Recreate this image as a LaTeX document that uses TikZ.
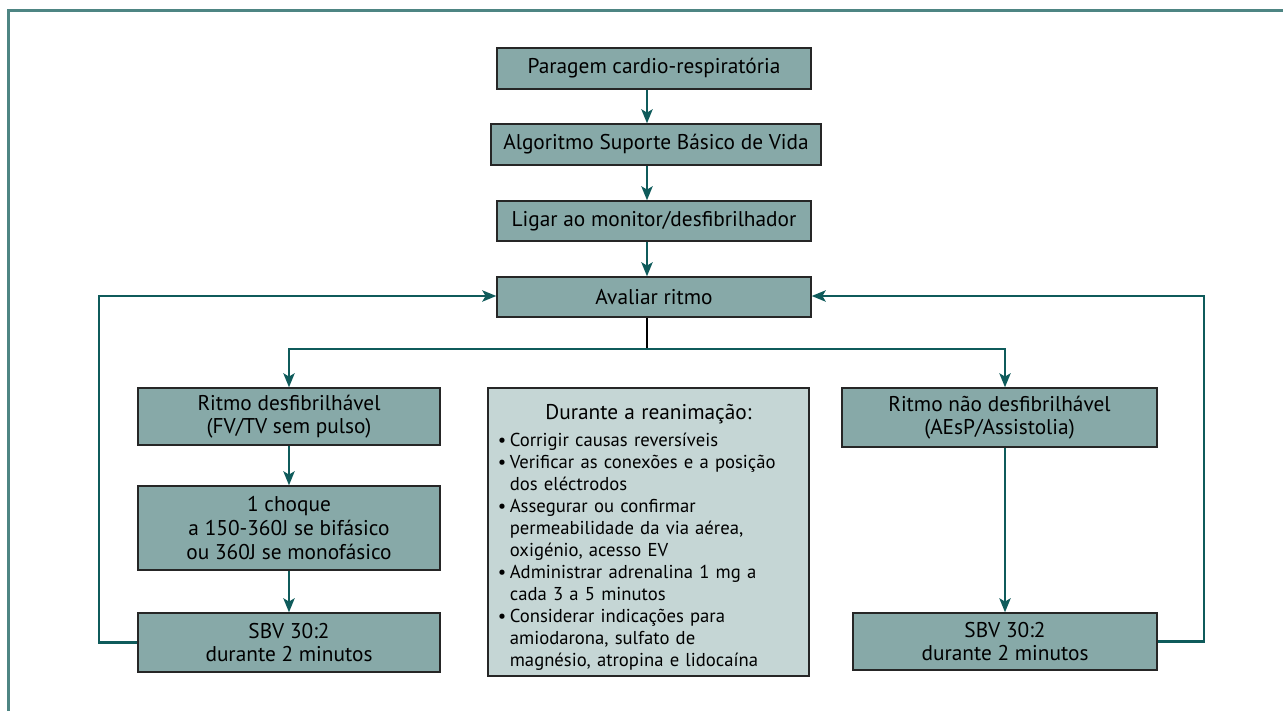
\documentclass[tikz,border=0pt]{standalone}
\usepackage{fontspec}
\setmainfont{PT Sans}
\usetikzlibrary{arrows.meta}
\definecolor{boxfill}{HTML}{87A9A8}
\definecolor{notefill}{HTML}{C5D6D5}
\definecolor{arrcol}{HTML}{0F5B5B}
\definecolor{framecol}{HTML}{4E8583}
\tikzset{
  box/.style={draw=black!85, fill=boxfill, line width=1.1pt, inner sep=0pt, align=center,
    font=\fontsize{16}{17.6}\selectfont},
  notebox/.style={draw=black!85, fill=notefill, line width=1.1pt, inner sep=0pt, align=left,
    font=\fontsize{14}{16.5}\selectfont},
  arr/.style={draw=arrcol, line width=1.6pt, -{Stealth[length=10.5pt,width=8.5pt,inset=2.5pt]}},
  framel/.style={draw=framecol, line width=1.6pt}
}
\newcommand{\bul}{\makebox[9pt][l]{\textbullet}}
\newcommand{\ind}{\hspace*{9pt}}
\begin{document}
\begin{tikzpicture}[x=0.75pt,y=-0.75pt]
\useasboundingbox (0,0) rectangle (1283,711);
\coordinate (fa) at (8.5,711);
\coordinate (fb) at (8.5,10.5);
\coordinate (fc) at (1283,10.5);
\draw[framel] (fa) -- (fb) -- (fc);

\node[box, minimum width=235.5pt, minimum height=30.75pt] (b1) at (654,68.5) {Paragem cardio-respiratória};
\node[box, minimum width=247.5pt, minimum height=30.75pt] (b2) at (656,144.5) {Algoritmo Suporte Básico de Vida};
\node[box, minimum width=235.5pt, minimum height=30pt] (b3) at (654,221) {Ligar ao monitor/desfibrilhador};
\node[box, minimum width=235.5pt, minimum height=30pt] (b4) at (654,297) {Avaliar ritmo};

\node[box, minimum width=226.5pt, minimum height=42.75pt] (l1) at (289,416.5) {Ritmo desfibrilhável\\(FV/TV sem pulso)};
\node[box, minimum width=226.5pt, minimum height=63pt, font=\fontsize{16}{18}\selectfont] (l2) at (289,528) {1 choque\\a 150-360J se bifásico\\ou 360J se monofásico};
\node[box, minimum width=226.5pt, minimum height=44.25pt] (l3) at (289,642.5) {SBV 30:2\\durante 2 minutos};

\node[notebox, minimum width=240.75pt, minimum height=216pt, text width=226pt] (m) at (648.5,532) {%
\makebox[226pt][c]{\rule{0pt}{19.5pt}\fontsize{16}{17}\selectfont Durante a reanimação:}\\[4pt]
\bul Corrigir causas reversíveis\\
\bul Verificar as conexões e a posição\\
\ind dos eléctrodos\\
\bul Assegurar ou confirmar\\
\ind permeabilidade da via aérea,\\
\ind oxigénio, acesso EV\\
\bul Administrar adrenalina 1 mg a\\
\ind cada 3 a 5 minutos\\
\bul Considerar indicações para\\
\ind amiodarona, sulfato de\\
\ind magnésio, atropina e lidocaína};

\node[box, minimum width=236.25pt, minimum height=44.25pt] (r1) at (999.5,417.5) {Ritmo não desfibrilhável\\(AEsP/Assistolia)};
\node[box, minimum width=228pt, minimum height=42.75pt] (r2) at (1005,641.5) {SBV 30:2\\durante 2 minutos};

\coordinate (ax) at (647,0);
\coordinate (rx) at (1005,0);
\coordinate (split) at (647,349);
\coordinate (lloop) at (99,450);
\coordinate (rloop) at (1204,450);

\draw[arr] (b1.south -| ax) -- (b2.north -| ax);
\draw[arr] (b2.south -| ax) -- (b3.north -| ax);
\draw[arr] (b3.south -| ax) -- (b4.north -| ax);
\draw[black, line width=1.6pt] (b4.south -| ax) -- (split);
\draw[arr] (split) -| (l1.north);
\draw[arr] (split) -| (r1.north -| rx);
\draw[arr] (l1) -- (l2);
\draw[arr] (l2) -- (l3);
\draw[arr] (r1.south -| rx) -- (r2.north -| rx);
\draw[arr] (l3.west) -| (lloop) |- ([yshift=0.75pt]b4.west);
\draw[arr] (r2.east) -| (rloop) |- ([yshift=0.75pt]b4.east);
\end{tikzpicture}
\end{document}
